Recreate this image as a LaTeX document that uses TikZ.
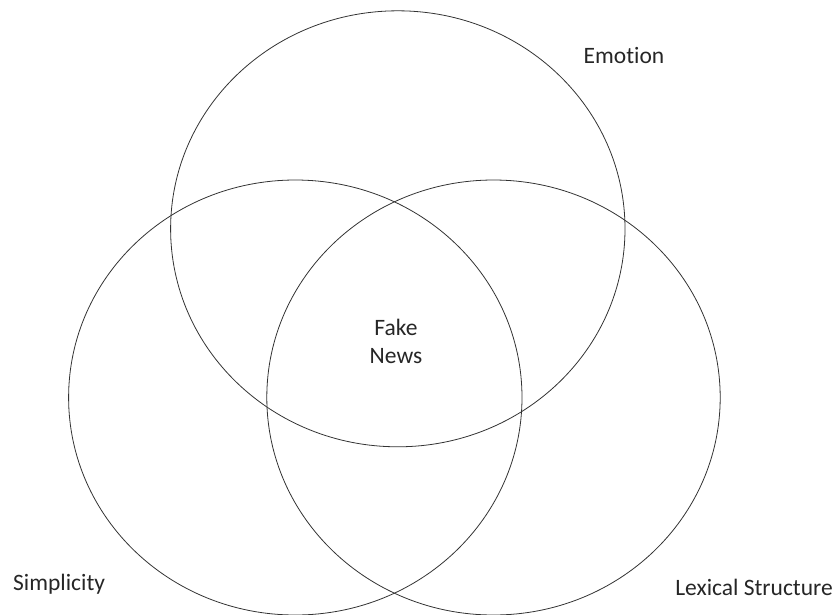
\documentclass[tikz,border=0pt]{standalone}
\usepackage{fontspec}
\setmainfont{Carlito}[Ligatures=NoCommon]
\begin{document}
\begin{tikzpicture}[x=1pt,y=-1pt,
  ring/.style={draw=black!80,line width=0.8pt},
  lbl/.style={inner sep=0pt,text=black!85,font=\fontsize{23.5}{28}\selectfont}]
\useasboundingbox (0,0) rectangle (835,614);
\clip (0,0) rectangle (835,614);
\draw[ring] (397.8,228.8) ellipse [x radius=227.2pt, y radius=218pt];
\draw[ring] (295.3,397.5) ellipse [x radius=226.7pt, y radius=217.5pt];
\draw[ring] (493.5,397.5) ellipse [x radius=226.7pt, y radius=217.5pt];
\node[lbl,anchor=base] (emo) at (624,63) {Emotion};
\node[lbl,anchor=center,align=center] (fake) at (396,341) {Fake\\News};
\node[lbl,anchor=base west] (simp) at (13,590) {Simplicity};
\node[lbl,anchor=base east] (lex) at (833,595) {Lexical Structure};
\end{tikzpicture}
\end{document}
